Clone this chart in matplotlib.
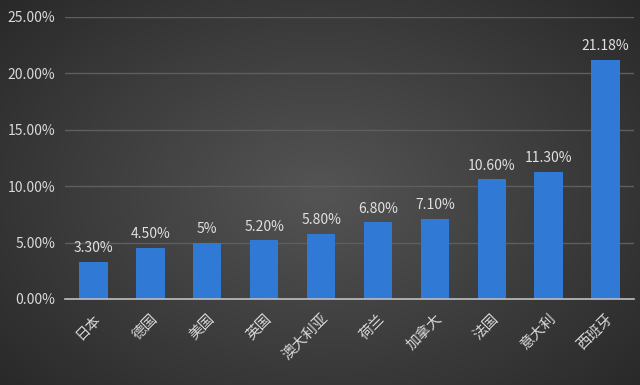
import matplotlib
matplotlib.use("Agg")
import matplotlib.pyplot as plt
import numpy as np

plt.rcParams['font.family'] = ['Noto Sans CJK SC', 'DejaVu Sans']

categories = ['日本', '德国', '美国', '英国', '澳大利亚', '荷兰', '加拿大', '法国', '意大利', '西班牙']
values = [3.30, 4.50, 5.0, 5.20, 5.80, 6.80, 7.10, 10.60, 11.30, 21.18]
labels = ['3.30%', '4.50%', '5%', '5.20%', '5.80%', '6.80%', '7.10%', '10.60%', '11.30%', '21.18%']
yticks = [0, 5, 10, 15, 20, 25]
ytick_labels = ['0.00%', '5.00%', '10.00%', '15.00%', '20.00%', '25.00%']

fig = plt.figure(figsize=(6.4, 3.85), dpi=100)

# background gradient
bg = fig.add_axes([0, 0, 1, 1])
xx = np.linspace(-1, 1, 400)
yy = np.linspace(-1, 1, 240)
X, Y = np.meshgrid(xx, yy)
r = np.sqrt((X * 0.9) ** 2 + (Y * 0.8) ** 2)
val = 0.33 - 0.14 * np.clip(r, 0, 1.3)
img = np.dstack([val, val, val])
bg.imshow(img, aspect='auto', extent=[0, 1, 0, 1])
bg.axis('off')

ax = fig.add_axes([65 / 640, (385 - 299) / 385, (634 - 65) / 640, (299 - 17) / 385])
ax.patch.set_alpha(0)
x = np.arange(len(categories))
bars = ax.bar(x, values, width=0.5, color='#3079d4', zorder=3)
for xi, v, lab in zip(x, values, labels):
    ax.text(xi, v + 0.6, lab, ha='center', va='bottom', color='#e0e0e0', fontsize=10, zorder=4)

ax.set_xlim(-0.5, len(categories) - 0.5)
ax.set_ylim(0, 25)
ax.set_yticks(yticks)
ax.set_yticklabels(ytick_labels, color='#d9d9d9', fontsize=10)
ax.set_xticks(x)
ax.set_xticklabels(categories, rotation=45, ha='right', rotation_mode='anchor', color='#d9d9d9', fontsize=10.5)
ax.tick_params(axis='both', length=0)
ax.tick_params(axis='y', pad=7)
ax.tick_params(axis='x', pad=9)
ax.grid(axis='y', color='#5e5e5e', linewidth=1, zorder=0)
for s in ['top', 'right', 'left']:
    ax.spines[s].set_visible(False)
ax.spines['bottom'].set_color('#bfbfbf')
ax.spines['bottom'].set_linewidth(1.2)
ax.spines['bottom'].set_zorder(5)

fig.savefig('out.png', dpi=100)
